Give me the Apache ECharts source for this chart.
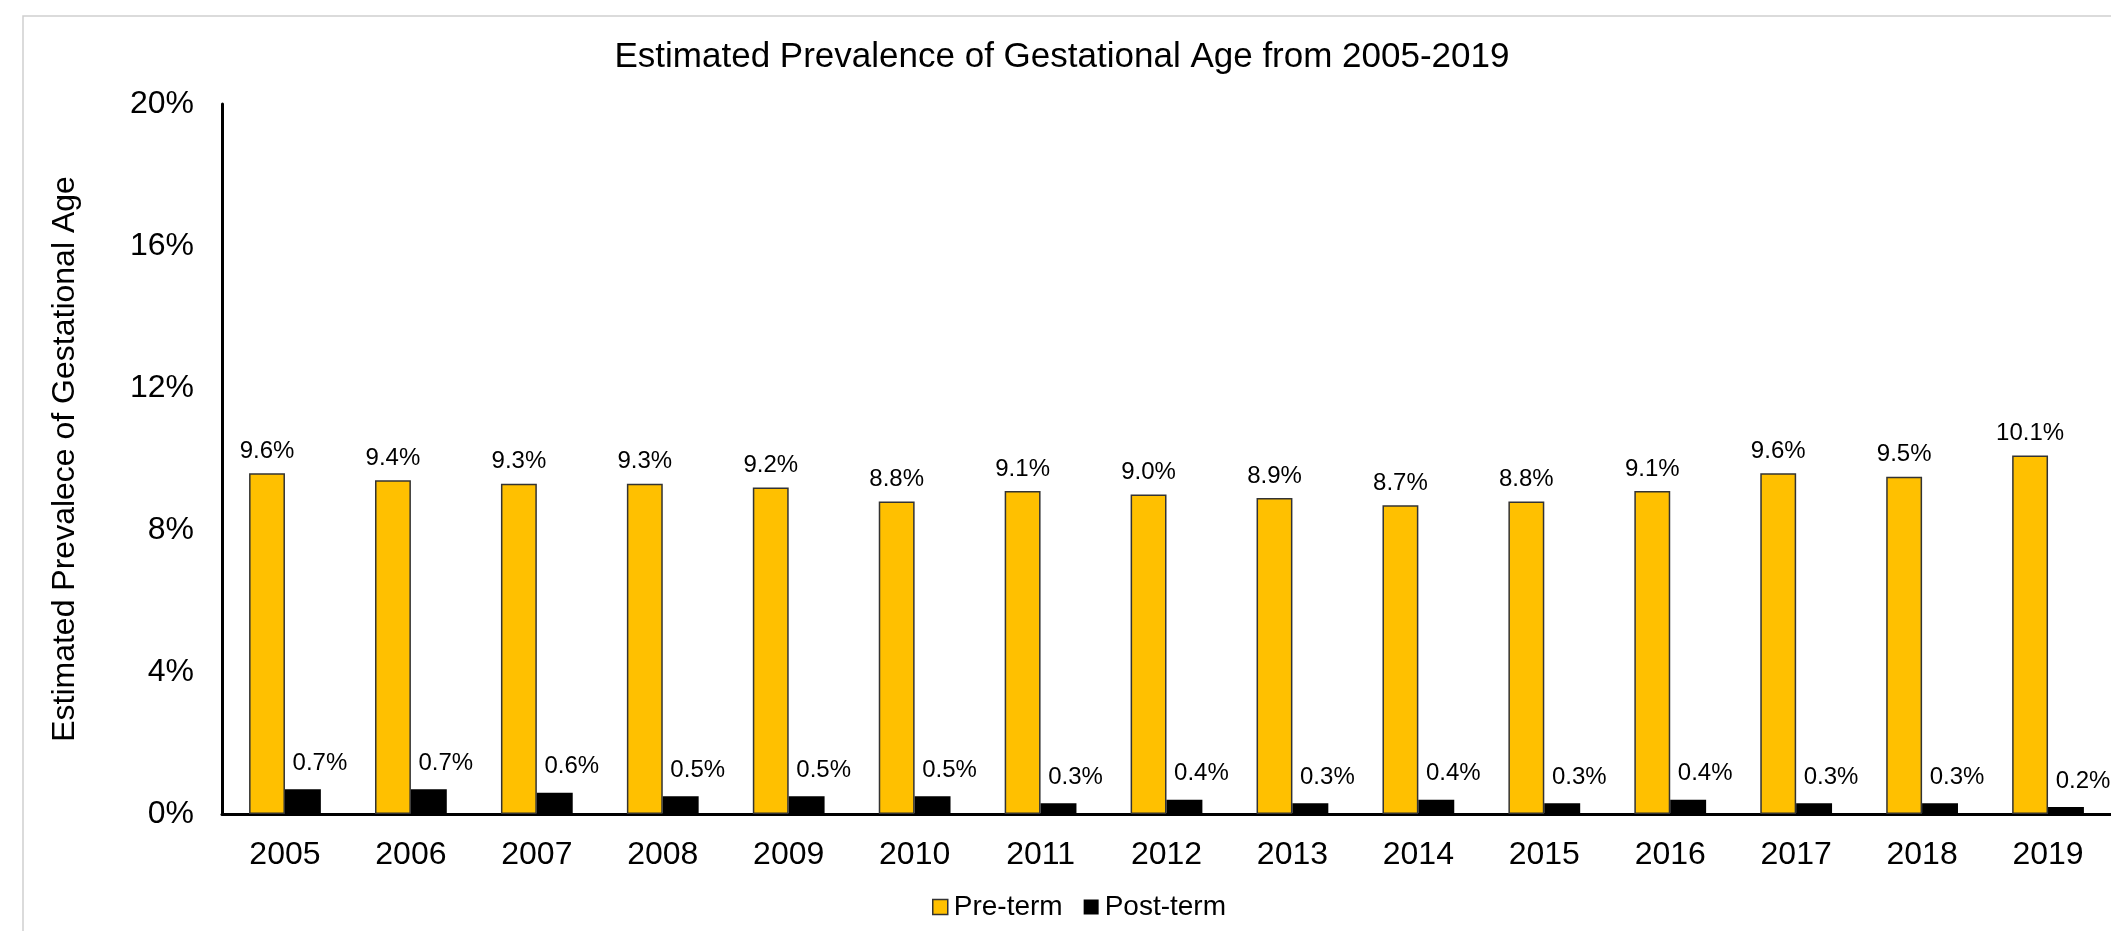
<!DOCTYPE html>
<html>
<head>
<meta charset="utf-8">
<title>Estimated Prevalence of Gestational Age from 2005-2019</title>
<script src="https://cdn.jsdelivr.net/npm/echarts@6/dist/echarts.min.js"></script>
<style>
  html, body { margin: 0; padding: 0; background: #ffffff; }
  #chart { width: 2111px; height: 931px; }
</style>
</head>
<body>
<div id="chart"></div>
<script>
// Survey years
const years = ['2005', '2006', '2007', '2008', '2009', '2010', '2011', '2012',
               '2013', '2014', '2015', '2016', '2017', '2018', '2019'];
// Estimated prevalence (%) by gestational age group
const preTerm  = [9.6, 9.4, 9.3, 9.3, 9.2, 8.8, 9.1, 9.0, 8.9, 8.7, 8.8, 9.1, 9.6, 9.5, 10.1];
const postTerm = [0.7, 0.7, 0.6, 0.5, 0.5, 0.5, 0.3, 0.4, 0.3, 0.4, 0.3, 0.4, 0.3, 0.3, 0.2];
const seriesNames = ['Pre-term', 'Post-term'];
// Y axis range (%)
const yMin = 0, yMax = 20, yStep = 4;

const FONT = '"Liberation Sans", Arial, sans-serif';
const pct = p => p.value.toFixed(1) + '%';

const chart = echarts.init(document.getElementById('chart'), null, { renderer: 'canvas' });

chart.setOption({
  animation: false,
  backgroundColor: '#ffffff',
  textStyle: { fontFamily: FONT, color: '#000' },
  graphic: [{
    type: 'rect',
    silent: true,
    shape: { x: 23, y: 16, width: 3000, height: 2000 },
    style: { fill: 'none', stroke: '#cfcfcf', lineWidth: 1.5 }
  }],
  title: {
    text: 'Estimated Prevalence of Gestational Age from 2005-2019',
    left: 1057,
    top: 35,
    textAlign: 'center',
    textStyle: { fontFamily: FONT, fontSize: 35, fontWeight: 'normal', color: '#000', lineHeight: 35 }
  },
  legend: {
    data: [
      { name: seriesNames[0], itemStyle: { color: '#FFC000', borderColor: '#333333', borderWidth: 1.5 } },
      { name: seriesNames[1], itemStyle: { color: '#000000' } }
    ],
    left: 932,
    top: 893,
    padding: 0,
    itemWidth: 15,
    itemHeight: 15,
    itemGap: 21,
    icon: 'rect',
    textStyle: { fontFamily: FONT, fontSize: 28, color: '#000', padding: [0, 0, 0, 1] }
  },
  grid: { left: 222, right: 0, top: 104, bottom: 117, containLabel: false },
  xAxis: {
    type: 'category',
    data: years,
    axisLine: { show: true, lineStyle: { color: '#000', width: 3 } },
    axisTick: { show: false },
    axisLabel: { fontFamily: FONT, fontSize: 32, color: '#000', margin: 25 },
    splitLine: { show: false }
  },
  yAxis: {
    type: 'value',
    min: yMin,
    max: yMax,
    interval: yStep,
    name: 'Estimated Prevalece of Gestational Age',
    nameLocation: 'middle',
    nameRotate: 90,
    nameGap: 141,
    nameTextStyle: { fontFamily: FONT, fontSize: 32, color: '#000' },
    axisLine: { show: true, lineStyle: { color: '#000', width: 3 } },
    axisTick: { show: false },
    axisLabel: { fontFamily: FONT, fontSize: 32, color: '#000', margin: 28, formatter: '{value}%' },
    splitLine: { show: false }
  },
  series: [
    {
      name: seriesNames[0],
      type: 'bar',
      data: preTerm,
      barGap: '0%',
      barCategoryGap: '43%',
      itemStyle: { color: '#FFC000', borderColor: '#333333', borderWidth: 1.5 },
      label: {
        show: true, position: 'top', distance: 10,
        fontFamily: FONT, fontSize: 24, color: '#000', formatter: pct
      }
    },
    {
      name: seriesNames[1],
      type: 'bar',
      data: postTerm,
      itemStyle: { color: '#000000' },
      label: {
        show: true, position: 'top', distance: 14, offset: [17, 0],
        fontFamily: FONT, fontSize: 24, color: '#000', formatter: pct
      }
    }
  ]
});
</script>
</body>
</html>
